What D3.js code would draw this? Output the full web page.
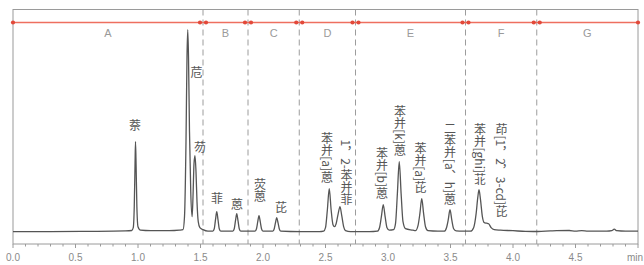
<!DOCTYPE html>
<html><head><meta charset="utf-8">
<script src="https://cdn.jsdelivr.net/npm/d3@7"></script>
<style>
html,body{margin:0;padding:0;background:#fff;}
svg{display:block;}
</style></head>
<body>
<svg id="chart" width="644" height="265"></svg>
<script>
// ---- data ----
const traceTime = [0.00,0.30,0.60,0.90,0.95,0.962,0.970,0.976,0.980,0.985,0.991,1.000,1.02,1.10,1.25,1.33,
  1.360,1.372,1.384,1.392,1.398,1.404,1.412,1.422,1.433,1.440,1.448,1.456,1.464,1.472,1.482,1.495,1.52,1.56,
  1.598,1.610,1.620,1.630,1.640,1.650,1.662,
  1.758,1.770,1.780,1.790,1.800,1.810,1.822,
  1.936,1.948,1.958,1.968,1.978,1.988,2.000,
  2.078,2.090,2.100,2.110,2.120,2.130,2.142,2.30,2.45,
  2.485,2.500,2.515,2.530,2.545,2.560,2.572,2.585,2.600,2.616,2.630,2.645,2.660,2.70,2.85,
  2.915,2.932,2.947,2.962,2.977,2.992,3.010,3.045,3.060,3.075,3.090,3.105,3.120,3.140,3.20,
  3.220,3.240,3.255,3.270,3.285,3.300,3.320,3.40,
  3.450,3.468,3.482,3.496,3.510,3.525,3.545,3.60,
  3.660,3.685,3.705,3.718,3.728,3.740,3.755,3.770,3.790,3.805,3.825,3.850,3.900,4.000,
  4.10,4.20,4.30,4.35,4.45,4.50,4.55,4.60,4.75,4.79,4.81,4.83,4.90,5.00];
const traceSignal = [0,0,0.3,0.8,1.2,4,25,65,90,65,25,5,1.5,1,1,1.5,
  2,15,90,175,202,175,100,40,15,35,68,76,60,30,10,4,2,0.5,
  0.5,3,12,20,12,3,0.5,
  0.5,3,11,18,11,3,0.5,
  0.5,3,10,16,10,3,0.5,
  0.5,3,9,14,9,3,0.5,0,0,
  0.5,4,22,43,22,7,5,8,17,25,16,5,1,0,0,
  0.5,4,15,27,15,4,1.5,2,8,38,70,38,10,3,1.5,
  1,6,18,33,18,5,1,0.5,
  0.5,4,12,22,12,3,0.8,0.5,
  0.5,4,18,34,42,32,15,9,8.5,8,4,2,1.5,1,
  0.3,0.2,0.8,1,1.2,0.6,1,0.5,0.5,1,2.5,1,0.5,0.5];

const segBounds = [0, 1.52, 1.88, 2.29, 2.74, 3.62, 4.19, 5.0];
const segNames = ["A","B","C","D","E","F","G"];

const tickValues = [0.0,0.5,1.0,1.5,2.0,2.5,3.0,3.5,4.0,4.5,5.0];
const tickLabels = ["0.0","0.5","1.0","1.5","2.0","2.5","3.0","3.5","4.0","4.5","min"];

const peakNames = ["萘","苊","芴","菲","蒽","荧蒽","芘","苯并[a]蒽","1，2-苯并菲","苯并[b]蒽","苯并[k]蒽","苯并[a]芘","二苯并[a、h]蒽","苯并[ghi]苝","茚[1，2，3-cd]芘"];
const labelTime = [0.976,1.468,1.496,1.632,1.792,1.976,2.144,2.512,2.668,2.952,3.096,3.260,3.496,3.736,3.908];
const labelSignal = [100.7,153.7,78.7,27.7,21.7,29.7,18.7,48.7,26.7,32.7,75.7,38.7,26.7,46.7,14.7];

// ---- drawing ----
const svg = d3.select("#chart");
const L = 13, R = 638, T = 9.5, B = 244;
const x = d3.scaleLinear().domain([0, 5]).range([L, R]);
const y = d3.scaleLinear().domain([0, 202]).range([231.7, 29.7]);

// frame
svg.append("rect").attr("x", L).attr("y", T).attr("width", R - L).attr("height", B - T)
  .attr("fill", "none").attr("stroke", "#9a9a9a").attr("stroke-width", 1);

// dashed segment boundaries
svg.selectAll("line.seg").data(segBounds.slice(1, -1)).enter().append("line")
  .attr("x1", d => x(d)).attr("x2", d => x(d)).attr("y1", T).attr("y2", B)
  .attr("stroke", "#9c9c9c").attr("stroke-width", 1).attr("stroke-dasharray", "6,4");

// red segment line
const redY = 22.5;
svg.append("line").attr("x1", x(0)).attr("x2", x(5)).attr("y1", redY).attr("y2", redY)
  .attr("stroke", "#ee6f5f").attr("stroke-width", 1.6);
const markers = [];
segBounds.forEach((b, i) => {
  if (i === 0) markers.push(x(b));
  else if (i === segBounds.length - 1) markers.push(x(b));
  else { markers.push(x(b) - 3); markers.push(x(b) + 3); }
});
svg.selectAll("circle.mk").data(markers).enter().append("circle")
  .attr("cx", d => d).attr("cy", redY).attr("r", 2.1).attr("fill", "#e2493a");

// segment letters
svg.selectAll("text.seg").data(segNames).enter().append("text")
  .attr("x", (d, i) => (x(segBounds[i]) + x(segBounds[i + 1])) / 2)
  .attr("y", 37).attr("text-anchor", "middle")
  .attr("font-family", "Liberation Sans, Arial, sans-serif").attr("font-size", 11)
  .attr("fill", "#9a9a9a").text(d => d);

// axis
const minor = d3.range(0, 51).map(i => i / 10);
svg.selectAll("line.mt").data(minor).enter().append("line")
  .attr("x1", d => x(d)).attr("x2", d => x(d)).attr("y1", B).attr("y2", d => B + (Math.abs(d * 2 - Math.round(d * 2)) < 1e-6 ? 4 : 2.5))
  .attr("stroke", "#9a9a9a").attr("stroke-width", 1);
svg.selectAll("text.tk").data(tickValues).enter().append("text")
  .attr("x", (d, i) => i === tickValues.length - 1 ? 643 : x(d)).attr("y", 261)
  .attr("text-anchor", (d, i) => i === tickValues.length - 1 ? "end" : "middle")
  .attr("font-family", "Liberation Sans, Arial, sans-serif").attr("font-size", 10)
  .attr("fill", "#8a8a8a").text((d, i) => tickLabels[i]);

// trace
const pts = traceTime.map((t, i) => [t, traceSignal[i]]);
svg.append("path").datum(pts)
  .attr("d", d3.line().x(d => x(d[0])).y(d => y(d[1])).curve(d3.curveMonotoneX))
  .attr("fill", "none").attr("stroke", "#555").attr("stroke-width", 1.3);

// peak labels (vertical text)
svg.selectAll("text.pk").data(peakNames).enter().append("text")
  .attr("x", (d, i) => x(labelTime[i])).attr("y", (d, i) => y(labelSignal[i]))
  .attr("text-anchor", "end")
  .style("writing-mode", "vertical-rl")
  .attr("font-family", "Noto Sans CJK SC, sans-serif").attr("font-size", 12)
  .attr("fill", "#555").text(d => d);
</script>
</body></html>
